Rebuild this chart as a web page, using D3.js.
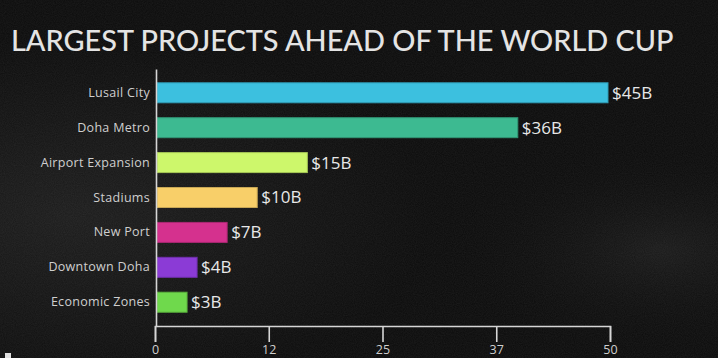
<!DOCTYPE html>
<html><head><meta charset="utf-8">
<script src="https://cdn.jsdelivr.net/npm/d3@7"></script>
<style>
html,body{margin:0;padding:0;background:#0c0c0c;}
svg{display:block;}
</style></head>
<body>
<script>
const categories = ["Lusail City","Doha Metro","Airport Expansion","Stadiums","New Port","Downtown Doha","Economic Zones"];
const values = [45, 36, 15, 10, 7, 4, 3];
const valueLabels = ["$45B","$36B","$15B","$10B","$7B","$4B","$3B"];
const colors = ["#3cc0df","#3dba91","#cdf76b","#f8cf69","#d5318e","#8b3bd6","#6fd94c"];
const tickValues = [0, 12.5, 25, 37.5, 50];
const tickLabels = ["0","12","25","37","50"];
const title = "LARGEST PROJECTS AHEAD OF THE WORLD CUP";

const W = 718, H = 358;
const svg = d3.select("body").append("svg").attr("width", W).attr("height", H);

// background
const defs = svg.append("defs");
const rg = defs.append("radialGradient").attr("id","bg1").attr("cx","0.1").attr("cy","0.6").attr("r","0.5");
rg.append("stop").attr("offset","0").attr("stop-color","#1c1c1c");
rg.append("stop").attr("offset","1").attr("stop-color","#0b0b0b");
const rg2 = defs.append("radialGradient").attr("id","bg2").attr("cx","0.92").attr("cy","0.7").attr("r","0.3");
rg2.append("stop").attr("offset","0").attr("stop-color","#1e1e1e").attr("stop-opacity",0.8);
rg2.append("stop").attr("offset","1").attr("stop-color","#0b0b0b").attr("stop-opacity",0);
const f = defs.append("filter").attr("id","grain");
f.append("feTurbulence").attr("type","fractalNoise").attr("baseFrequency","0.9").attr("numOctaves",2).attr("seed",3);
f.append("feColorMatrix").attr("type","matrix").attr("values","0 0 0 0 1  0 0 0 0 1  0 0 0 0 1  0 0 0 0.07 0");
svg.append("rect").attr("width",W).attr("height",H).attr("fill","url(#bg1)");
svg.append("rect").attr("width",W).attr("height",H).attr("fill","url(#bg2)");
svg.append("rect").attr("width",W).attr("height",H).attr("filter","url(#grain)");

// title (font size fitted to target width)
const t = svg.append("text").attr("x",11).attr("y",51)
  .attr("font-family","Lato, 'Open Sans', sans-serif").attr("font-size",31).attr("font-weight",500)
  .attr("fill","#e4e4e4")
  .text(title);
const tw = t.node().getComputedTextLength();
t.attr("font-size", 31 * 663 / tw);

// scales
const x = d3.scaleLinear().domain([0, 45]).range([157, 608]);
const xAxisScale = d3.scaleLinear().domain([0, 50]).range([155, 610]);
const y = d3.scaleBand().domain(categories).range([69, 326]).paddingInner(0.427).paddingOuter(0.395);

// bars
svg.append("g").selectAll("rect").data(categories).join("rect")
  .attr("x", x(0))
  .attr("y", d => y(d))
  .attr("width", (d,i) => x(values[i]) - x(0))
  .attr("height", y.bandwidth())
  .attr("fill", (d,i) => colors[i])
  .attr("stroke", (d,i) => d3.color(colors[i]).darker(0.6))
  .attr("stroke-width", 1);

// value labels
svg.append("g").selectAll("text").data(categories).join("text")
  .attr("x", (d,i) => x(values[i]) + 4)
  .attr("y", d => y(d) + y.bandwidth()/2)
  .attr("dy","0.35em")
  .attr("font-family","'Open Sans', sans-serif").attr("font-size",17)
  .attr("fill","#e8e8e8")
  .text((d,i) => valueLabels[i]);

// y axis
const ya = svg.append("g").attr("transform","translate(156,0)")
  .call(d3.axisLeft(y).tickSize(0).tickPadding(6));
ya.select(".domain").attr("stroke","#d6d6d6").attr("stroke-width",1.6);
ya.selectAll("text").attr("font-family","'Open Sans', sans-serif").attr("font-size",12.5)
  .attr("letter-spacing",0.3).attr("fill","#cfcfcf");

// x axis
const xa = svg.append("g").attr("transform","translate(0,326)")
  .call(d3.axisBottom(xAxisScale).tickValues(tickValues).tickFormat((d,i) => tickLabels[i]).tickSize(16).tickSizeOuter(16).tickPadding(3));
xa.select(".domain").attr("stroke","#d6d6d6").attr("stroke-width",1.6);
xa.selectAll(".tick line").attr("stroke","#d6d6d6").attr("stroke-width",1.6);
xa.selectAll("text").attr("font-family","'Open Sans', sans-serif").attr("font-size",12.5).attr("fill","#cfcfcf");

// small corner mark
svg.append("rect").attr("x",5).attr("y",353).attr("width",6).attr("height",5).attr("fill","#e0e0e0");
</script>
</body></html>
